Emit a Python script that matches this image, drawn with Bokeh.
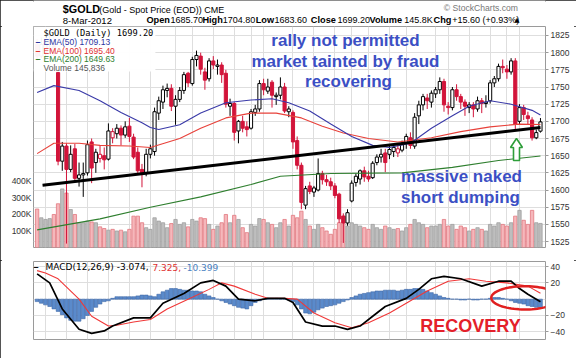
import numpy as np
import pandas as pd
from bokeh.plotting import figure
from bokeh.models import (Range1d, LinearAxis, FixedTicker, Label, BoxAnnotation,
                          PolyAnnotation, Grid, ColumnDataSource)
from bokeh.layouts import column
from bokeh.embed import file_html
from bokeh.resources import INLINE

# ---------------- data ----------------
holidays = ["2011-11-24", "2011-12-26", "2012-01-02", "2012-01-16", "2012-02-20"]

opens = [1812, 1795, 1800, 1814, 1810, 1771, 1642, 1664, 1630, 1660, 1617, 1622, 1625, 1670, 1640, 1646, 1650, 1645, 1676, 1682,
         1690, 1680, 1693, 1677, 1655, 1630, 1625, 1652, 1656, 1712, 1728, 1745, 1748, 1722, 1732, 1745, 1770, 1755, 1790, 1795,
         1772, 1762, 1788, 1780, 1782, 1770, 1722, 1726, 1686, 1700, 1692, 1690, 1713, 1718, 1755, 1744, 1757, 1736, 1738, 1750,
         1714, 1713, 1672, 1636, 1578, 1606, 1597, 1600, 1624, 1615, 1612, 1606, 1594, 1562, 1552, 1584, 1611, 1616, 1628, 1620,
         1618, 1640, 1648, 1654, 1652, 1656, 1654, 1658, 1668, 1676, 1664, 1708, 1724, 1734, 1728, 1740, 1746, 1758, 1722, 1720,
         1746, 1736, 1728, 1720, 1724, 1718, 1730, 1726, 1730, 1756, 1762, 1780, 1776, 1772, 1788, 1700, 1720, 1708, 1702, 1676,
         1685.7]
highs = [1820, 1822, 1818, 1826, 1826, 1772, 1670, 1668, 1665, 1667, 1640, 1640, 1672, 1675, 1660, 1665, 1662, 1697, 1690, 1696,
         1694, 1700, 1705, 1682, 1662, 1638, 1660, 1666, 1720, 1736, 1752, 1755, 1754, 1738, 1750, 1772, 1772, 1794, 1803, 1800,
         1778, 1792, 1795, 1790, 1786, 1775, 1733, 1728, 1702, 1708, 1700, 1718, 1724, 1760, 1762, 1762, 1760, 1742, 1764, 1756,
         1722, 1716, 1678, 1640, 1606, 1612, 1606, 1646, 1628, 1622, 1618, 1610, 1596, 1566, 1572, 1614, 1624, 1630, 1634, 1628,
         1642, 1652, 1660, 1660, 1664, 1664, 1666, 1672, 1682, 1684, 1712, 1730, 1740, 1740, 1745, 1750, 1764, 1762, 1728, 1750,
         1754, 1740, 1732, 1728, 1728, 1736, 1734, 1738, 1760, 1766, 1784, 1790, 1782, 1792, 1792, 1725, 1724, 1714, 1706, 1688,
         1704.8]
lows = [1788, 1792, 1792, 1800, 1795, 1636, 1628, 1522, 1626, 1612, 1605, 1590, 1621, 1610, 1625, 1640, 1630, 1643, 1668, 1675,
        1665, 1676, 1670, 1645, 1622, 1604, 1620, 1646, 1650, 1702, 1718, 1735, 1715, 1695, 1728, 1740, 1750, 1752, 1780, 1768,
        1746, 1758, 1776, 1768, 1756, 1720, 1708, 1672, 1668, 1684, 1678, 1688, 1708, 1714, 1738, 1740, 1720, 1724, 1732, 1712,
        1706, 1660, 1630, 1572, 1572, 1594, 1590, 1598, 1608, 1606, 1600, 1588, 1552, 1523, 1548, 1582, 1605, 1608, 1612, 1612,
        1616, 1636, 1640, 1626, 1645, 1648, 1648, 1655, 1660, 1660, 1660, 1696, 1716, 1718, 1720, 1734, 1740, 1714, 1710, 1716,
        1730, 1718, 1708, 1712, 1706, 1714, 1712, 1720, 1726, 1750, 1758, 1770, 1762, 1768, 1688, 1696, 1702, 1696, 1672, 1674,
        1683.6]
closes = [1795, 1812, 1814, 1818, 1800, 1642, 1664, 1630, 1652, 1617, 1622, 1624, 1666, 1632, 1655, 1652, 1644, 1686, 1685, 1690,
          1680, 1692, 1678, 1648, 1628, 1624, 1652, 1660, 1714, 1730, 1746, 1748, 1722, 1732, 1745, 1768, 1756, 1790, 1796, 1776,
          1760, 1788, 1782, 1782, 1768, 1725, 1726, 1684, 1700, 1690, 1688, 1714, 1718, 1755, 1746, 1750, 1738, 1738, 1750, 1715,
          1718, 1670, 1636, 1582, 1602, 1598, 1603, 1624, 1615, 1612, 1606, 1592, 1558, 1552, 1567, 1610, 1620, 1628, 1619, 1616,
          1639, 1648, 1652, 1640, 1659, 1662, 1660, 1666, 1678, 1665, 1706, 1724, 1736, 1730, 1741, 1746, 1758, 1724, 1720, 1746,
          1736, 1728, 1722, 1724, 1718, 1730, 1726, 1728, 1756, 1762, 1780, 1778, 1772, 1788, 1696, 1720, 1710, 1704, 1676, 1683.6,
          1699.2]
volumes_k = [233, 180, 170, 175, 200, 265, 355, 330, 230, 200, 150, 150, 160, 155, 150, 125, 115, 105, 110, 100,
             105, 95, 110, 190, 190, 150, 120, 110, 180, 160, 150, 120, 145, 170, 140, 150, 125, 170, 160, 180,
             175, 140, 110, 130, 150, 200, 150, 195, 170, 120, 90, 140, 130, 175, 170, 150, 140, 120, 150, 170,
             130, 195, 180, 220, 170, 130, 110, 140, 120, 100, 80, 110, 150, 190, 130, 150, 140, 130, 120, 110,
             140, 120, 110, 130, 120, 110, 115, 100, 120, 140, 170, 150, 140, 120, 130, 130, 140, 170, 130, 140,
             110, 130, 120, 100, 110, 120, 110, 100, 140, 130, 150, 140, 130, 150, 190, 225, 165, 140, 225, 150,
             145.836]

ema50_idx = [0, 4, 10, 15, 20, 25, 27, 29, 34, 39, 45, 51, 56, 60, 65, 70, 75, 80, 84, 89, 94, 99, 103, 108, 113, 118, 120]
ema50_val = [1742, 1752, 1745, 1730, 1713, 1698, 1691, 1688, 1695, 1712, 1727, 1731, 1733, 1727, 1715, 1696, 1678, 1665,
             1662, 1668, 1690, 1708, 1722, 1730, 1725, 1716, 1709.13]
ema100_idx = [0, 4, 10, 15, 22, 27, 34, 39, 45, 51, 57, 63, 68, 73, 79, 86, 94, 101, 108, 115, 120]
ema100_val = [1653, 1668, 1668, 1665, 1664, 1662, 1675, 1690, 1705, 1712, 1712, 1705, 1693, 1683, 1675, 1670, 1676, 1685,
              1692, 1696, 1695.40]
ema200_idx = [0, 15, 27, 39, 51, 58, 70, 87, 99, 110, 120]
ema200_val = [1542, 1558, 1575, 1590, 1608, 1620, 1624, 1625, 1633, 1643, 1649.63]

trend_idx = [1.3, 120]
trend_val = [1607, 1691]

macd_idx = [0, 3, 6, 10, 13, 16, 18, 23, 27, 30, 35, 39, 42, 45, 48, 52, 55, 59, 61, 64, 68, 71, 74, 77, 80, 83, 88, 91,
            94, 97, 101, 106, 110, 113, 115, 117, 120]
macd_val = [31, 20, -12, -37, -42, -39, -33, -23, -23, -5, 7, 20, 23, 16, 0, -2, 1, 1, -4, -28, -33, -33, -37, -33, -21,
            -9, 1, 12, 25, 28, 25, 16, 22, 22, 13, 6, -3.074]
signal_idx = [0, 2, 5, 10, 13, 17, 19, 23, 27, 31, 36, 41, 44, 47, 52, 55, 59, 62, 66, 71, 75, 79, 84, 88, 93, 98, 103,
              107, 112, 117, 120]
signal_val = [35, 32, 25, 0, -21, -33, -32, -28, -25, -12, 0, 12, 20, 16, 6, 1, 1, 0, -17, -29, -35, -29, -17, -5, 10,
              22, 25, 22, 20, 16, 7.325]
hist_val = [-3, -5, -7, -9, -12, -15, -19, -23, -26, -27, -27, -24, -20, -15, -10, -6, -3, -2, 1, 3,
            3, 3, 3, 3, 4, 5, 5, 4, 3, 6, 9, 11, 13, 13, 12, 11, 11, 10, 10, 9,
            6, 4, 2, 0, -2, -4, -6, -8, -10, -11, -12, -8, -4, -2, 0, 1, 1, 1, 0, 0,
            -1, -3, -7, -12, -17, -18, -16, -13, -11, -9, -8, -7, -5, -3, -1, 2, 4, 6, 7, 8,
            9, 10, 10, 11, 11, 11, 10, 11, 12, 12, 13, 13, 12, 10, 8, 6, 4, 2, 1, 0,
            0, -1, -1, 0, -1, -1, 0, 0, 1, 2, 2, 1, 0, -2, -4, -5, -6, -8, -9, -10,
            -10.399]

tick_dates = ["2011-09-19", "2011-09-26", "2011-10-03", "2011-10-10", "2011-10-17", "2011-10-24", "2011-11-01",
              "2011-11-07", "2011-11-14", "2011-11-21", "2011-11-28", "2011-12-01", "2011-12-12", "2011-12-19",
              "2011-12-27", "2012-01-03", "2012-01-09", "2012-01-17", "2012-01-23", "2012-02-01", "2012-02-06",
              "2012-02-13", "2012-02-21", "2012-02-27", "2012-03-01"]
tick_labels = ["19", "26", "Oct", "10", "17", "24", "Nov", "7", "14", "21", "28", "Dec", "12", "19", "27", "2012",
               "9", "17", "23", "Feb", "6", "13", "21", "27", "Mar"]
bold_labels = {"Oct", "Nov", "Dec", "2012", "Feb", "Mar"}
price_ticks = list(range(1525, 1826, 25))
vol_ticks = [100, 200, 300, 400]
macd_ticks = [-40, -20, 20, 40]

# ---------------- derived positions ----------------
days = pd.bdate_range("2011-09-15", "2012-03-08")
days = days[~days.isin(pd.to_datetime(holidays))]
n = len(days)
xs = list(range(n))
tick_idx = [int(days.get_loc(pd.Timestamp(d))) for d in tick_dates]

RED = "#D2143A"
GRID = "#DEDEDE"
BLUE_TXT = "#3B4FC4"
FONT = "Liberation Sans"

prev = [opens[0]] + closes[:-1]
col = [RED if c < pc else "black" for c, pc in zip(closes, prev)]
fill = ["white" if c > o else cc for o, c, cc in zip(opens, closes, col)]
vfill = ["#F5B7BB" if c < pc else "#BEBEBE" for c, pc in zip(closes, prev)]
vline = ["#E27880" if c < pc else "#A0A0A0" for c, pc in zip(closes, prev)]

src = ColumnDataSource(dict(x=xs, o=opens, h=highs, l=lows, c=closes,
                            top=[max(a, b) for a, b in zip(opens, closes)],
                            bottom=[min(a, b) for a, b in zip(opens, closes)],
                            col=col, fill=fill, vol=volumes_k, vfill=vfill, vline=vline,
                            hist=hist_val))

xr = Range1d(-0.86, 121.2)


def style_axis(ax):
    ax.axis_line_color = None
    ax.major_tick_line_color = "#999999"
    ax.major_tick_out = 3
    ax.major_tick_in = 0
    ax.minor_tick_line_color = None
    ax.major_label_standoff = 2
    ax.major_label_text_font = FONT
    ax.major_label_text_font_size = "8.5px"
    ax.major_label_text_color = "#333333"


# ---------------- header strip ----------------
p0 = figure(width=576, height=26, x_range=Range1d(0, 576), y_range=Range1d(26, 0),
            output_backend="svg", toolbar_location=None, x_axis_location=None,
            y_axis_location=None, min_border=0, outline_line_color=None)
p0.xgrid.visible = False
p0.ygrid.visible = False


def L0(X, Y, text, size, color="black", style="normal", font=FONT, align="left"):
    p0.add_layout(Label(x=X, y=Y, text=text, text_font=font, text_font_size=f"{size}px",
                        text_color=color, text_font_style=style, text_align=align,
                        text_baseline="middle"))


L0(33, 8.6, "$GOLD", 10.8, style="bold")
L0(74, 9.0, "(Gold - Spot Price (EOD)) CME", 9)
L0(545, 7.5, "\u00a9 StockCharts.com", 8.6, color="#777777", align="right")
L0(33, 19.8, "8-Mar-2012", 9.5)
for X, t, b in [(127, "Open", True), (154, "1685.70", False), (190, "High", True), (213, "1704.80", False),
                (250, "Low", True), (271, "1683.60", False), (312, "Close", True), (342, "1699.20", False),
                (378, "Volume", True), (417, "145.8K", False), (450, "Chg", True),
                (471, "+15.60 (+0.93%)", False)]:
    L0(X, 19.8, t, 9.2 if b else 9, style="bold" if b else "normal")
L0(541, 19.5, "\u25b2", 6.5, font="DejaVu Sans")

# ---------------- price panel ----------------
p1 = figure(width=576, height=234, x_range=xr, y_range=Range1d(1516.3, 1838.1),
            output_backend="svg", toolbar_location=None, x_axis_location=None,
            y_axis_location="right", min_border_left=33, min_border_right=31,
            min_border_top=0, min_border_bottom=13, outline_line_color="#9A9A9A")
p1.extra_y_ranges = {"vol": Range1d(0, 1339)}
p1.xgrid.visible = False
p1.ygrid.visible = False
p1.add_layout(Grid(dimension=0, ticker=FixedTicker(ticks=tick_idx), grid_line_color=GRID))
p1.add_layout(Grid(dimension=1, ticker=FixedTicker(ticks=price_ticks), grid_line_color=GRID))
p1.yaxis.ticker = FixedTicker(ticks=price_ticks)
style_axis(p1.yaxis[0])

vax = LinearAxis(y_range_name="vol", ticker=FixedTicker(ticks=vol_ticks),
                 major_label_overrides={v: f"{v}K" for v in vol_ticks})
style_axis(vax)
vax.major_tick_line_color = None
vax.major_tick_out = 0
p1.add_layout(vax, "left")

p1.vbar(x="x", width=0.8, top="vol", bottom=0, y_range_name="vol", fill_color="vfill",
        line_color="vline", line_width=0.8, source=src)
p1.segment(x0="x", y0="l", x1="x", y1="h", line_color="col", line_width=1, source=src)
p1.vbar(x="x", width=0.75, top="top", bottom="bottom", fill_color="fill", line_color="col",
        line_width=1, source=src)
p1.line(ema200_idx, ema200_val, line_color="#2F7F2F", line_width=1.1)
p1.line(ema100_idx, ema100_val, line_color="#E8413A", line_width=1.1)
p1.line(ema50_idx, ema50_val, line_color="#3A3AA8", line_width=1.1)
p1.line(trend_idx, trend_val, line_color="black", line_width=3)

# legend background
p1.add_layout(BoxAnnotation(left=-0.86, right=28.2, bottom=1772.6, top=1838.1,
                            fill_color="white", fill_alpha=0.95, line_color=None))

# green arrow
p1.add_layout(PolyAnnotation(
    xs=[114.28, 115.71, 115.0, 115.0, 113.57, 113.57, 112.85],
    ys=[1675.0, 1661.9, 1661.9, 1643.0, 1643.0, 1661.9, 1661.9],
    fill_color="white", fill_alpha=1, line_color="#2E9E3A", line_alpha=1, line_width=1.6))


def L1(X, Y, text, size, color="black", style="normal", font=FONT, align="left"):
    p1.add_layout(Label(x=X - 33, y=247 - Y, x_units="screen", y_units="screen", text=text,
                        text_font=font, text_font_size=f"{size}px", text_color=color,
                        text_font_style=style, text_align=align, text_baseline="middle"))


# legend
L1(43, 32.3, "$GOLD (Daily) 1699.20", 8.7, font="DejaVu Sans Mono")
L1(35, 41.2, "\u2013", 9, color="#2B35A0", style="bold")
L1(43, 41.2, "EMA(50) 1709.13", 8.5, color="#2B35A0")
L1(35, 50, "\u2013", 9, color="#E03030", style="bold")
L1(43, 50, "EMA(100) 1695.40", 8.5, color="#E03030")
L1(35, 58.5, "\u2013", 9, color="#2F7F2F", style="bold")
L1(43, 58.5, "EMA(200) 1649.63", 8.5, color="#2F7F2F")
L1(43, 67, "Volume 145,836", 8.5, color="#555555")

# commentary
for X, Y, t in [(345, 39.5, "rally not permitted"), (345, 60.5, "market tainted by fraud"),
                (348, 80.5, "recovering"), (461, 175.5, "massive naked"), (460, 196.5, "short dumping")]:
    L1(X, Y, t, 17, color=BLUE_TXT, style="bold", align="center")

for ti, tl in zip(tick_idx, tick_labels):
    p1.add_layout(Label(x=ti, y=-4, x_units="data", y_units="screen", text=tl, text_font=FONT,
                        text_font_size="9px", text_color="#222222", text_align="center",
                        text_baseline="top", text_font_style="bold" if tl in bold_labels else "normal"))

# ---------------- MACD panel ----------------
p2 = figure(width=576, height=98, x_range=xr, y_range=Range1d(-49.5, 46.2),
            output_backend="svg", toolbar_location=None, x_axis_location=None,
            y_axis_location="right", min_border_left=33, min_border_right=31,
            min_border_top=1, min_border_bottom=19, outline_line_color="#9A9A9A")
p2.xgrid.visible = False
p2.ygrid.visible = False
p2.add_layout(Grid(dimension=0, ticker=FixedTicker(ticks=tick_idx), grid_line_color=GRID))
p2.add_layout(Grid(dimension=1, ticker=FixedTicker(ticks=[-40, -20, 0, 20, 40]), grid_line_color=GRID))
p2.yaxis.ticker = FixedTicker(ticks=macd_ticks)
style_axis(p2.yaxis[0])

p2.vbar(x="x", width=0.9, top="hist", bottom=0, fill_color="#5A8ACB", line_color="#3C67A6",
        line_width=0.6, source=src)
p2.line(signal_idx, signal_val, line_color="#F03838", line_width=1.1)
p2.line(macd_idx, macd_val, line_color="black", line_width=1.7)

t = np.linspace(0, 2 * np.pi, 80)
p2.add_layout(PolyAnnotation(xs=list(116.3 + 8.03 * np.cos(t)), ys=list(1.6 + 14.3 * np.sin(t)),
                             fill_alpha=0, line_color="#E02020", line_alpha=1, line_width=2.5))


def L2(X, Y, text, size, color="black", style="normal", font=FONT, align="left"):
    p2.add_layout(Label(x=X - 33, y=339 - Y, x_units="screen", y_units="screen", text=text,
                        text_font=font, text_font_size=f"{size}px", text_color=color,
                        text_font_style=style, text_align=align, text_baseline="middle"))


L2(33, 266.8, "\u2013", 9, style="bold")
L2(45, 266.8, "MACD(12,26,9) -3.074,", 9, font="DejaVu Sans")
L2(152, 266.8, "7.325,", 9, color="#E03030", font="DejaVu Sans")
L2(183, 266.8, "-10.399", 9, color="#4A7FC1", font="DejaVu Sans")
L2(470, 325.5, "RECOVERY", 18, color="#E4202A", style="bold", align="center")

for ti, tl in zip(tick_idx, tick_labels):
    p2.add_layout(Label(x=ti, y=-3, x_units="data", y_units="screen", text=tl, text_font=FONT,
                        text_font_size="9px", text_color="#222222", text_align="center",
                        text_baseline="top", text_font_style="bold" if tl in bold_labels else "normal"))

layout = column(p0, p1, p2)
layout.styles = {"outline": "2px solid #1c1c1c", "outline-offset": "-2px"}
open("out.html", "w").write(file_html(layout, INLINE))
